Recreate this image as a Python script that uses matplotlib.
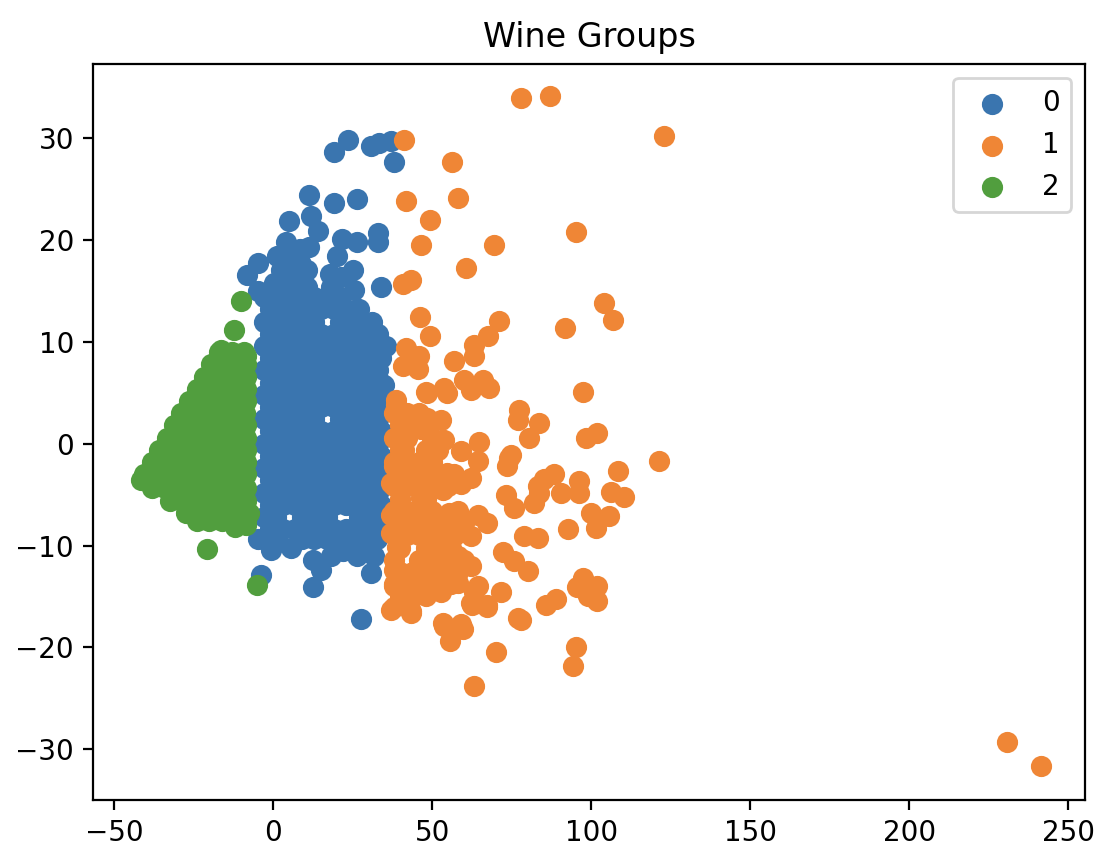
import matplotlib
matplotlib.use("Agg")
import matplotlib.pyplot as plt

# ---------------- data ----------------
group_labels = ["0", "1", "2"]
group_colors = ["#3a75af", "#ef8636", "#519e3e"]

# group 0 (blue): dense body, rows of (y, [x...])
blue_rows = [
    (14.4, [-3, 1, 5, 9, 13, 17, 21]),
    (13.2, [-1, 3, 7, 11, 15, 19, 23, 27]),
    (12.0, [-3, 1, 5, 9, 13, 21, 25, 29, 31]),
    (10.8, [-1, 3, 7, 11, 15, 19, 23, 27, 31, 33]),
    (9.6, [-3, 1, 5, 9, 13, 17, 21, 25, 29, 33, 35.5]),
    (8.4, [-1, 3, 7, 11, 15, 19, 23, 27, 31, 34]),
    (7.2, [-3, 1, 5, 9, 13, 17, 21, 25, 29, 33]),
    (6.0, [-1, 3, 7, 11, 15, 19, 23, 27, 31, 34]),
    (4.8, [-3, 1, 5, 9, 13, 17, 21, 25, 29, 33]),
    (3.6, [-1, 3, 7, 11, 15, 19, 23, 27, 31, 34]),
    (2.4, [-3, 1, 5, 9, 13, 21, 25, 29, 33]),
    (1.2, [-1, 3, 7, 11, 15, 19, 23, 27, 31, 34]),
    (0.0, [-3, 1, 5, 9, 13, 17, 21, 25, 29, 33]),
    (-1.2, [-1, 3, 7, 11, 15, 19, 23, 27, 31, 34]),
    (-2.4, [-3, 1, 5, 9, 13, 17, 21, 25, 29, 33]),
    (-3.6, [-1, 3, 7, 11, 15, 19, 23, 27, 31, 34]),
    (-4.8, [-3, 1, 5, 9, 13, 17, 21, 25, 29, 33]),
    (-6.0, [-1, 3, 7, 11, 15, 19, 23, 27, 31, 34]),
    (-7.2, [-3, 1, 9, 13, 17, 27, 31, 34]),
    (-8.4, [-1, 3, 7, 11, 15, 19, 23, 27, 31]),
    (-9.4, [-4.9, 1, 9, 13, 17, 21, 25, 29, 32.8]),
]
blue_x_extra = [19.2, 23.6, 30.7, 33.3, 37.0, 38.0, 11.3, 19.2, 26.5, 5.0, 11.8,
                14.2, 4.2, 8.5, 11.3, 21.8, 26.5, 33.1, 33.1, 1.3, -4.9, -8.1,
                20.2, 25.0, 17.8, 33.9, 8.7, 10.8, 5.0, -4.9, 6.6, 2.4, 7.6,
                0.3, 5.5, 10.8, 18.1, 21.3, 25.5, 34.9, 35.4,
                -0.5, 5.5, 12.5, 18.1, 15.0, 26.5, 31.7, 22.0,
                -3.9, 12.5, 27.6, 30.7]
blue_y_extra = [28.7, 29.8, 29.2, 29.5, 29.7, 27.7, 24.4, 23.6, 24.0, 21.9, 22.4,
                20.9, 19.8, 19.1, 19.3, 20.1, 19.8, 20.7, 19.8, 18.4, 17.8, 16.6,
                18.4, 17.1, 16.7, 15.4, 17.7, 17.1, 16.4, 15.0, 18.0, 17.1, 16.7,
                15.8, 15.4, 15.4, 15.4, 16.4, 15.1, 5.8, 3.3,
                -10.4, -10.2, -11.4, -11.0, -12.4, -11.0, -11.0, -10.5,
                -12.9, -14.1, -17.2, -12.7]

# group 1 (orange)
orange_rows = [
    (3.0, [38, 42, 46]),
    (1.8, [40, 44, 48]),
    (0.6, [38, 42, 50]),
    (-0.6, [40, 48, 52]),
    (-1.8, [38, 42, 46, 50]),
    (-3.0, [40, 44, 48, 52, 57]),
    (-4.2, [38, 42, 50, 55]),
    (-5.4, [40, 48]),
    (-6.6, [38, 42, 46, 50, 58]),
    (-7.8, [40, 44, 48, 52, 56, 60]),
    (-9.0, [38, 42, 46, 52]),
    (-10.2, [40, 48, 50, 56]),
    (-11.4, [38, 46, 50, 54, 60]),
    (-12.6, [40, 44, 52, 58]),
    (-13.8, [38, 42, 46, 50, 56]),
    (-15.0, [40, 44, 48]),
]
orange_x_extra = [230.8, 241.5, 78, 87, 123, 41.2, 56.4, 58.3, 41.9, 49.4, 95.3, 46.5,
                  69.5, 60.8, 43.3, 41.0, 104.1, 106.8, 91.8, 46.2, 70.9, 49.4,
                  67.6, 63.2, 63.2, 56.9, 41.7, 46.0, 40.7, 45.6, 97.3,
                  38.6, 38.6, 48.0, 53.8, 60.1, 65.9, 67.9, 62.2, 54.8, 48.5,
                  42.3, 48.5, 40.2, 46.4, 53.8, 64.8, 59.0, 41.2, 64.3, 38.0,
                  44.3, 49.6, 54.8, 62.2, 37.0, 42.3, 47.5, 53.3, 59.0, 46.4,
                  37.0, 42.3, 55.3, 64.3, 67.4, 37.0, 39.1, 48.5, 56.9, 62.2,
                  53.8, 58.0, 62.2, 38.0, 43.3, 48.5, 54.8, 38.0, 46.4, 52.7,
                  58.0, 63.2, 38.0, 43.3, 62.2, 67.4, 53.3, 59.0, 55.5, 63.2,
                  70.0, 71.6, 76.9, 52.7,
                  77.4, 76.9, 83.7, 80.5, 98.4, 102.0, 121.4, 74.8, 73.7, 108.3,
                  88.4, 85.2, 90.5, 82.1, 83.7, 96.3, 96.3, 106.2, 110.4, 73.2,
                  75.8, 99.9, 105.7, 101.5, 92.6, 83.2, 79.0, 72.2, 75.8, 80.0,
                  97.3, 102.0, 95.7, 102.0, 98.9, 85.8, 88.9, 77.9, 95.2, 94.2,
                  53.8, 59.6, 37.0, 43.3, 62.7, 67.4, 64.3, 83.2, 74.2]
orange_y_extra = [-29.3, -31.7, 34.0, 34.2, 30.2, 29.8, 27.7, 24.1, 23.8, 22.0, 20.8, 19.5,
                  19.5, 17.3, 16.1, 15.7, 13.8, 12.2, 11.4, 12.4, 12.1, 10.6,
                  10.6, 9.7, 8.6, 8.1, 9.4, 8.6, 7.6, 7.3, 5.1,
                  4.3, 3.8, 5.1, 5.5, 6.3, 6.3, 5.5, 5.3, 5.0, 5.0,
                  2.7, 2.5, 1.4, 1.4, 0.4, 0.2, -0.75, -0.6, -1.7, -2.2,
                  -2.2, -1.9, -2.9, -3.4, -3.9, -3.5, -4.2, -4.5, -4.0, -5.3,
                  -7.0, -6.8, -6.8, -7.0, -7.8, -8.8, -10.1, -9.1, -9.1, -9.1,
                  -10.7, -11.0, -12.0, -12.4, -12.7, -12.7, -13.3, -14.0, -14.3, -14.6,
                  -13.7, -14.6, -16.0, -16.4, -15.6, -15.8, -17.6, -17.7, -19.4, -23.8,
                  -20.5, -14.6, -17.1, 2.35,
                  3.3, 2.35, 2.0, 0.55, 0.55, 1.05, -1.7, -1.1, -2.2, -2.7,
                  -3.0, -3.5, -4.8, -5.8, -4.8, -3.7, -4.8, -4.7, -5.2, -5.0,
                  -6.3, -6.8, -7.1, -8.3, -8.4, -9.25, -9.1, -10.6, -11.5, -12.5,
                  -13.2, -14.0, -14.1, -15.5, -15.0, -15.8, -15.3, -17.3, -20.0, -21.8,
                  -17.9, -18.2, -16.3, -16.6, -15.8, -16.0, -14.0, -4.2, -1.4]

# group 2 (green)
green_rows = [
    (9.0, [-17, -13, -9]),
    (7.8, [-19.5, -15.5, -11.5, -8.5]),
    (6.6, [-21.7, -17.7, -13.7, -9.7, -8.5]),
    (5.4, [-24, -20, -16, -12, -8.5]),
    (4.2, [-26.4, -22.4, -18.4, -14.4, -10.4, -8.5]),
    (3.0, [-28.8, -24.8, -20.8, -16.8, -12.8, -8.8]),
    (1.8, [-31, -27, -23, -19, -15, -11, -8.5]),
    (0.6, [-33.5, -29.5, -25.5, -21.5, -17.5, -13.5, -9.5, -8.5]),
    (-0.6, [-35.8, -31.8, -27.8, -23.8, -19.8, -15.8, -11.8, -8.5]),
    (-1.8, [-38.2, -34.2, -30.2, -26.2, -22.2, -18.2, -14.2, -10.2, -8.5]),
    (-3.0, [-40.5, -36.5, -32.5, -28.5, -24.5, -20.5, -16.5, -12.5, -8.5]),
    (-3.6, [-41.5]),
    (-4.4, [-38, -34, -30, -26, -22, -18, -14, -10, -8.5]),
    (-5.6, [-32.5, -28.5, -24.5, -20.5, -16.5, -12.5, -8.5]),
    (-6.8, [-27.5, -23.5, -19.5, -15.5, -11.5, -7.5]),
    (-7.6, [-24, -20, -16, -12, -8.5]),
]
green_x_extra = [-12.3, -10.2, -8.6, -16.5, -12.0, -8.5, -20.8, -5.0]
green_y_extra = [11.2, 14.0, 8.6, 9.2, -8.2, -8.0, -10.3, -13.9]


def collect(rows, xe, ye):
    xs, ys = [], []
    for yv, xl in rows:
        for xv in xl:
            xs.append(xv)
            ys.append(yv)
    return xs + list(xe), ys + list(ye)


groups = [
    collect(blue_rows, blue_x_extra, blue_y_extra),
    collect(orange_rows, orange_x_extra, orange_y_extra),
    collect(green_rows, green_x_extra, green_y_extra),
]

# ---------------- figure ----------------
W, H, DPI = 1109, 865, 200
fig = plt.figure(figsize=(W / DPI, H / DPI), dpi=DPI)
ax = fig.add_axes([93.4 / W, 65 / H, (1085 - 93.4) / W, 736 / H])

for (xs, ys), lab, col in zip(groups, group_labels, group_colors):
    ax.scatter(xs, ys, s=44, color=col, label=lab)

ax.set_xlim(-56.5, 255.3)
ax.set_ylim(-35.0, 37.3)
ax.set_xticks([-50, 0, 50, 100, 150, 200, 250])
ax.set_yticks([-30, -20, -10, 0, 10, 20, 30])
ax.set_title("Wine Groups")
ax.legend(loc="upper right")

fig.savefig("out.png", dpi=DPI)
